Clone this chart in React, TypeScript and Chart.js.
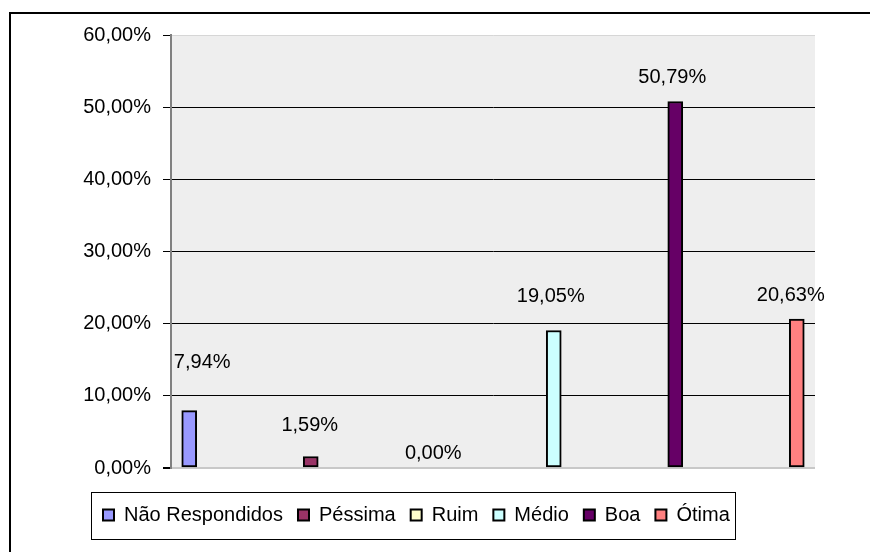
import React, { useEffect, useRef } from 'react';
import { Chart, registerables } from 'chart.js';

Chart.register(...registerables);

const categories = ['Não Respondidos', 'Péssima', 'Ruim', 'Médio', 'Boa', 'Ótima'];
const values = [7.94, 1.59, 0, 19.05, 50.79, 20.63];
const valueLabels = ['7,94%', '1,59%', '0,00%', '19,05%', '50,79%', '20,63%'];
const colors = ['#9999FF', '#993366', '#FFFFCC', '#CCFFFF', '#660066', '#FF8080'];
const yTickValues = [0, 10, 20, 30, 40, 50, 60];
const yTickLabels = ['0,00%', '10,00%', '20,00%', '30,00%', '40,00%', '50,00%', '60,00%'];

const FONT = '"Liberation Sans", Arial, sans-serif';
const LEGEND_LEFT = 88;

const plotBg = {
  id: 'plotBg',
  beforeDraw(chart: any) {
    const { ctx, chartArea: a } = chart;
    ctx.save();
    ctx.fillStyle = '#eeeeee';
    ctx.fillRect(a.left, a.top, a.right - a.left, a.bottom - a.top);
    ctx.restore();
  },
};

const legendShift = {
  id: 'legendShift',
  afterLayout(chart: any) {
    const lg = chart.legend;
    if (!lg) return;
    lg.left = LEGEND_LEFT;
    lg.width = lg.right - lg.left;
  },
};

const valueLabelPlugin = {
  id: 'valueLabels',
  afterDatasetsDraw(chart: any, _args: any, opts: any) {
    const { ctx } = chart;
    ctx.save();
    ctx.font = `20px ${FONT}`;
    ctx.fillStyle = '#000';
    ctx.textAlign = 'center';
    ctx.textBaseline = 'middle';
    chart.data.datasets.forEach((_ds: any, i: number) => {
      const meta = chart.getDatasetMeta(i);
      const el = meta.data[0];
      if (!el) return;
      const off = (opts.offsets && opts.offsets[i]) || [0, -25];
      ctx.fillText(valueLabels[i], el.x + off[0], el.y + off[1]);
    });
    ctx.restore();
  },
};

const legendBox = {
  id: 'legendBox',
  afterDraw(chart: any) {
    const lg = chart.legend;
    if (!lg || !lg.legendHitBoxes || !lg.legendHitBoxes.length) return;
    const hb = lg.legendHitBoxes;
    let l = Infinity, r = -Infinity, t = Infinity, b = -Infinity;
    hb.forEach((h: any) => {
      l = Math.min(l, h.left);
      r = Math.max(r, h.left + h.width);
      t = Math.min(t, h.top);
      b = Math.max(b, h.top + h.height);
    });
    const { ctx } = chart;
    ctx.save();
    ctx.strokeStyle = '#000';
    ctx.lineWidth = 1;
    const x0 = Math.round(l - 12) + 0.5;
    const x1 = Math.round(r + 5) + 0.5;
    const y0 = Math.round(t - 13) + 0.5;
    const y1 = Math.round(b + 14) + 0.5;
    ctx.strokeRect(x0, y0, x1 - x0, y1 - y0);
    ctx.restore();
  },
};

export default function App() {
  const ref = useRef<HTMLCanvasElement | null>(null);

  useEffect(() => {
    if (!ref.current) return;
    const datasets = categories.map((name, i) => ({
      label: name,
      data: [{ x: i, y: values[i] }],
      backgroundColor: colors[i],
      borderColor: '#000000',
      borderWidth: 2,
      borderSkipped: false,
      barThickness: 15,
      grouped: false,
    }));

    const chart = new Chart(ref.current, {
      type: 'bar',
      data: { datasets } as any,
      plugins: [plotBg, legendShift, valueLabelPlugin, legendBox],
      options: {
        responsive: false,
        animation: false,
        events: [],
        layout: { padding: { left: 20, right: 55, top: 35, bottom: 17 } },
        scales: {
          x: {
            type: 'linear',
            min: -0.15,
            max: 5.15,
            offset: false,
            ticks: { display: false },
            grid: { display: false },
            border: { display: false },
            afterFit(scale: any) {
              scale.height = 22;
            },
          },
          y: {
            min: 0,
            max: 60,
            afterBuildTicks(scale: any) {
              scale.ticks = yTickValues.map((v) => ({ value: v }));
            },
            ticks: {
              padding: 12,
              color: '#000',
              font: { family: FONT, size: 20 },
              callback: (v: any) => {
                const idx = yTickValues.indexOf(Number(v));
                return idx >= 0 ? yTickLabels[idx] : '';
              },
            },
            grid: {
              color: (c: any) => {
                const v = c.tick && c.tick.value;
                if (v === 0) return '#c8c8c8';
                if (v === 60) return '#d6d6d6';
                return '#000000';
              },
              lineWidth: (c: any) => {
                const v = c.tick && c.tick.value;
                return v === 0 ? 2 : 1;
              },
              tickColor: '#000000',
              tickLength: 8,
              drawTicks: true,
            },
            border: { display: true, color: '#808080', width: 2 },
            afterFit(scale: any) {
              scale.width = 151;
            },
          },
        },
        plugins: {
          legend: {
            display: true,
            position: 'bottom',
            align: 'start',
            labels: {
              color: '#000',
              font: { family: FONT, size: 20 },
              boxWidth: 11,
              boxHeight: 11,
              padding: 15,
            },
          },
          tooltip: { enabled: false },
          title: { display: false },
          valueLabels: {
            offsets: [
              [13, -48],
              [-1, -31],
              [1, -15],
              [-3, -34.5],
              [-3, -24],
              [-6, -23.5],
            ],
          },
        } as any,
      } as any,
    });
    return () => chart.destroy();
  }, []);

  return (
    <div style={{ position: 'absolute', left: 0, top: 0, width: 870, height: 552, background: '#fff', overflow: 'hidden' }}>
      <canvas ref={ref} width={870} height={552} style={{ position: 'absolute', left: 0, top: 0, width: 870, height: 552 }} />
      <div
        style={{
          position: 'absolute',
          left: 9,
          top: 12,
          width: 900,
          height: 600,
          borderTop: '2px solid #000',
          borderLeft: '2px solid #000',
          pointerEvents: 'none',
        }}
      />
    </div>
  );
}
